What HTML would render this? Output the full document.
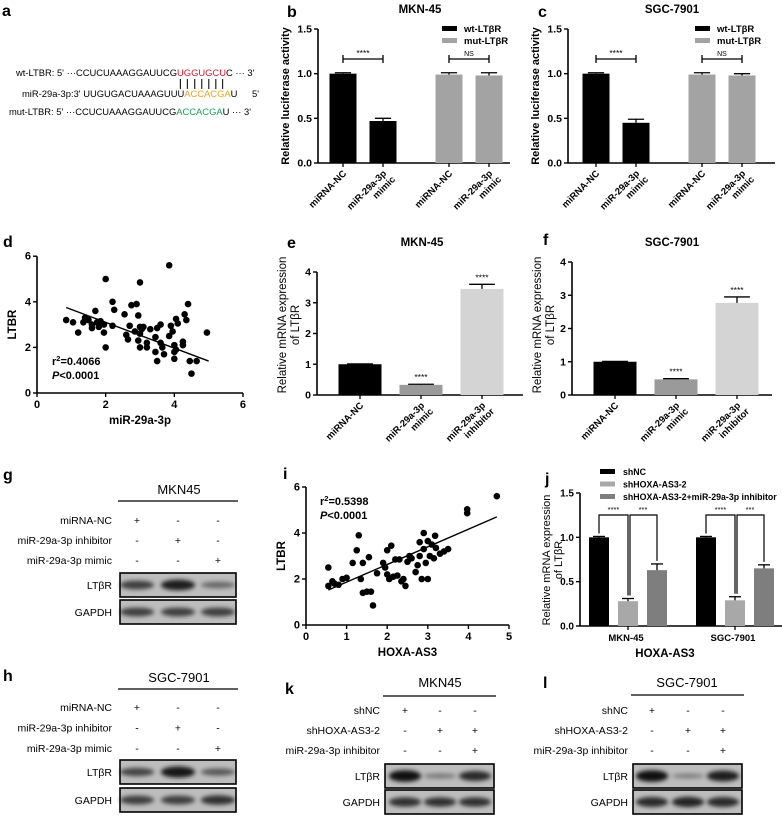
<!DOCTYPE html>
<html><head><meta charset="utf-8"><style>
html,body{margin:0;padding:0;background:#fff}
svg{display:block;font-family:"Liberation Sans",Arial,sans-serif}
</style></head><body>
<svg id="fig" width="782" height="816" viewBox="0 0 782 816">
<defs>
<filter id="blur" x="-20%" y="-100%" width="140%" height="300%"><feGaussianBlur stdDeviation="2"/></filter>
</defs>
<!-- panel a -->
<g font-size="9.4">
<text x="2" y="16" font-size="16" font-weight="bold">a</text>
<text x="16" y="76">wt-LTBR: 5' ···CCUCUAAAGGAUUCG<tspan id="wtc" fill="#c0223a">UGGUGCU</tspan>C ··· 3'</text>
<g id="pairs" stroke="#222" stroke-width="1.2"></g>
<text x="22" y="97">miR-29a-3p:3' UUGUGACUAAAGUUU<tspan fill="#e8a820">ACCACGA</tspan>U<tspan x="252">5'</tspan></text>
<text x="9" y="115">mut-LTBR: 5' ···CCUCUAAAGGAUUCG<tspan fill="#1f9e5a">ACCACGA</tspan>U ··· 3'</text>
</g>
<text x="287" y="17" font-size="16" font-weight="bold">b</text>
<text x="420" y="13" font-size="11.5" font-weight="bold" text-anchor="middle">MKN-45</text>
<text x="538" y="17" font-size="16" font-weight="bold">c</text>
<text x="672" y="13" font-size="11.5" font-weight="bold" text-anchor="middle">SGC-7901</text>
<text x="3" y="247" font-size="16" font-weight="bold">d</text>
<text x="287" y="248" font-size="16" font-weight="bold">e</text>
<text x="422" y="246" font-size="11.5" font-weight="bold" text-anchor="middle">MKN-45</text>
<text x="543" y="245" font-size="16" font-weight="bold">f</text>
<text x="672" y="246" font-size="11.5" font-weight="bold" text-anchor="middle">SGC-7901</text>
<text x="3" y="480" font-size="16" font-weight="bold">g</text>
<text x="3" y="681" font-size="16" font-weight="bold">h</text>
<text x="283" y="479" font-size="16" font-weight="bold">i</text>
<text x="545" y="484" font-size="16" font-weight="bold">j</text>
<text x="285" y="694" font-size="16" font-weight="bold">k</text>
<text x="543" y="688" font-size="16" font-weight="bold">l</text>
<g id="layer"></g>
</svg>
<script>
// ---- data ----
const bCats = ["miRNA-NC", "miR-29a-3p|mimic", "miRNA-NC", "miR-29a-3p|mimic"];
const bVals = [1.0, 0.47, 0.99, 0.98];
const bErr = [0.01, 0.03, 0.02, 0.03];
const cVals = [1.0, 0.45, 0.99, 0.98];
const cErr = [0.01, 0.04, 0.02, 0.02];
const lucTicks = [0, 0.5, 1.0, 1.5];
const lucTickLabels = ["0.0", "0.5", "1.0", "1.5"];
const eCats = ["miRNA-NC", "miR-29a-3p|mimic", "miR-29a-3p|inhibitor"];
const eVals = [1.0, 0.33, 3.45];
const eErr = [0.01, 0.02, 0.15];
const fVals = [1.0, 0.47, 2.77];
const fErr = [0.01, 0.02, 0.18];
const mrnaTicks = [0, 1, 2, 3, 4];
const jGroups = ["MKN-45", "SGC-7901"];
const jSeries = ["shNC", "shHOXA-AS3-2", "shHOXA-AS3-2+miR-29a-3p inhibitor"];
const jMKN = [1.0, 0.28, 0.63];
const jMKNErr = [0.01, 0.03, 0.07];
const jSGC = [1.0, 0.29, 0.65];
const jSGCErr = [0.01, 0.04, 0.04];
const dX = [0.85,1.05,1.2,1.35,1.4,1.5,1.6,1.6,1.7,1.75,1.8,1.85,1.95,1.95,2.0,2.0,2.2,2.2,2.25,2.55,2.6,2.65,2.7,2.75,2.85,2.9,2.95,2.95,3.0,3.0,3.0,3.0,3.05,3.1,3.2,3.2,3.3,3.45,3.45,3.5,3.5,3.6,3.6,3.65,3.7,3.85,3.85,3.9,3.95,4.0,4.0,4.0,4.05,4.05,4.1,4.25,4.25,4.3,4.35,4.4,4.45,4.5,4.65,4.95];
const dY = [3.2,3.1,2.65,3.1,3.3,3.2,3.0,2.85,3.6,3.1,2.9,3.15,3.0,2.65,2.0,5.0,4.0,2.95,3.65,3.45,2.55,2.35,2.95,3.85,2.7,3.9,3.4,2.3,4.85,2.9,2.6,2.0,2.8,2.9,2.2,2.0,2.8,1.8,2.45,1.4,2.85,3.0,2.2,2.0,1.7,5.6,2.5,2.95,2.7,2.1,1.8,1.5,3.25,1.9,3.05,2.1,2.25,3.45,3.2,3.9,1.4,0.85,1.4,2.65];
const dFit = [0.85, 5.0];
const dFitY = [3.75, 1.4];
const iX = [0.55,0.55,0.65,0.7,0.8,0.9,1.0,1.15,1.25,1.3,1.35,1.4,1.4,1.5,1.55,1.6,1.65,1.75,1.9,1.95,2.0,2.0,2.05,2.1,2.15,2.2,2.25,2.3,2.35,2.4,2.45,2.5,2.55,2.6,2.7,2.75,2.8,2.8,2.85,2.9,2.9,2.95,3.0,3.0,3.05,3.1,3.15,3.18,3.2,3.3,3.4,3.5,3.97,3.97,4.7];
const iY = [1.7,2.5,1.9,1.8,1.75,2.0,2.05,2.7,3.25,3.9,2.0,2.7,1.4,1.45,2.95,1.45,0.85,2.25,2.7,2.5,3.25,2.2,2.0,3.45,2.1,2.85,2.15,2.85,1.9,2.0,1.7,2.75,3.0,2.9,2.3,2.6,3.6,3.0,2.0,4.0,3.3,2.7,2.0,3.65,3.0,3.5,2.9,3.88,3.35,3.1,3.2,3.3,5.03,4.86,5.6];
const iFit = [0.55, 4.7];
const iFitY = [1.52, 4.7];
const scatTicksD = [0, 2, 4, 6];
const scatTicksI = [0, 1, 2, 3, 4, 5];
const scatYTicks = [0, 2, 4, 6];

const NS = "http://www.w3.org/2000/svg";
const layer = document.getElementById("layer");
function mk(tag, attrs, parent, txt) {
  const e = document.createElementNS(NS, tag);
  for (const k in attrs) e.setAttribute(k, attrs[k]);
  if (txt !== undefined) e.textContent = txt;
  (parent || layer).appendChild(e);
  return e;
}
function grp(name) {
  const g = mk("g", {});
  
  
  return g;
}
// pairing lines aligned to coloured letters
(function () {
  const t = document.getElementById("wtc").parentNode;
  const txt = t.textContent;
  const start = txt.indexOf("UGGUGCU");
  const pg = document.getElementById("pairs");
  for (let k = 0; k < 7; k++) {
    let x;
    try {
      const a = t.getStartPositionOfChar(start + k).x, b = t.getEndPositionOfChar(start + k).x;
      x = (a + b) / 2;
    } catch (e) { x = 189 + k * 6.5; }
    mk("line", {x1: x, y1: 79, x2: x, y2: 89}, pg);
  }
})();
function yAxis(g, x, yFn, ticks, labels, fs) {
  const top = yFn(ticks[ticks.length - 1]), bot = yFn(ticks[0]);
  const ax = mk("line", {x1: x, y1: top, x2: x, y2: bot, stroke: "#000", "stroke-width": 1.6}, g);
  
  
  ticks.forEach((t, i) => {
    mk("line", {x1: x - 4, y1: yFn(t), x2: x, y2: yFn(t), stroke: "#000", "stroke-width": 1.4}, g);
    const tl = mk("text", {x: x - 6, y: yFn(t) + 3.5, "text-anchor": "end", "font-size": fs || 10, "font-weight": "bold"}, g, labels ? labels[i] : String(t));
    
    
  });
}
function rotLabel(g, cx, y, label, fs) {
  const parts = label.split("|");
  const t = mk("text", {transform: `translate(${cx + 4},${y}) rotate(-45)`, "text-anchor": "end", "font-size": fs, "font-weight": "bold"}, g);
  
  
  parts.forEach((p, k) => {
    mk("tspan", {x: k === 0 ? 0 : 2, dy: k === 0 ? 0 : fs * 1.1}, t, p);
  });
}
function bar(g, x, w, y0, y, fill, err, yFn, v, name) {
  const r = mk("rect", {x: x, y: y, width: w, height: y0 - y, fill: fill}, g);
  
  
  const ey = yFn(v + err), cx = x + w / 2;
  mk("line", {x1: cx, y1: y, x2: cx, y2: ey, stroke: "#000", "stroke-width": 1.3}, g);
  mk("line", {x1: cx - w * 0.3, y1: ey, x2: cx + w * 0.3, y2: ey, stroke: "#000", "stroke-width": 1.3}, g);
}
function bracket(g, x1, x2, y, label, small) {
  mk("path", {d: `M${x1},${y - 4}V${y + 4}M${x1},${y}H${x2}M${x2},${y - 4}V${y + 4}`, stroke: "#000", "stroke-width": 1.3, fill: "none"}, g);
  mk("text", {x: (x1 + x2) / 2, y: y - 3, "text-anchor": "middle", "font-size": small ? 7 : 8.5}, g, label);
}

// ---- panels b & c ----
function lucPanel(name, axX, firstCx, endX, vals, errs, legX) {
  const g = grp(name);
  const y0 = 163, sc = (163 - 29) / 1.5;
  const yFn = v => y0 - v * sc;
  yAxis(g, axX, yFn, lucTicks, lucTickLabels, 10.5);
  const xs = i => firstCx + i * 40 + (i >= 2 ? 26 : 0);
  mk("line", {x1: axX, y1: y0, x2: endX, y2: y0, stroke: "#000", "stroke-width": 1.6}, g);
  vals.forEach((v, i) => {
    const cx = xs(i);
    bar(g, cx - 13.5, 27, y0, yFn(v), i < 2 ? "#000" : "#a3a3a3", errs[i], yFn, v, "bar-" + (i < 2 ? "wt" : "mut") + "-" + i);
    mk("line", {x1: cx, y1: y0, x2: cx, y2: y0 + 4, stroke: "#000", "stroke-width": 1.3}, g);
    rotLabel(g, cx, 174, bCats[i], 9.5);
  });
  bracket(g, xs(0), xs(1), 59, "****");
  bracket(g, xs(2), xs(3), 59, "NS", true);
  const yl = mk("text", {transform: `translate(${axX - 29},96) rotate(-90)`, "text-anchor": "middle", "font-size": 11, "font-weight": "bold"}, g, "Relative luciferase activity");
  
  
  const lg = mk("g", {}, g);
  
  
  mk("rect", {x: legX, y: 26, width: 15, height: 5, fill: "#000"}, lg);
  mk("text", {x: legX + 22, y: 32, "font-size": 9.5, "font-weight": "bold"}, lg, "wt-LTβR");
  mk("rect", {x: legX, y: 38, width: 15, height: 5, fill: "#a3a3a3"}, lg);
  mk("text", {x: legX + 22, y: 44, "font-size": 9.5, "font-weight": "bold"}, lg, "mut-LTβR");
}
lucPanel("chart-b", 318, 343, 510, bVals, bErr, 442);
lucPanel("chart-c", 568, 596, 775, cVals, cErr, 695);

// ---- panels e & f ----
function mrnaPanel(name, axX, topY, vals, errs, endX) {
  const g = grp(name);
  const y0 = 395, sc = (395 - topY) / 4;
  const yFn = v => y0 - v * sc;
  yAxis(g, axX, yFn, mrnaTicks, null, 10.5);
  mk("line", {x1: axX, y1: y0, x2: endX, y2: y0, stroke: "#000", "stroke-width": 1.6}, g);
  const cols = ["#000", "#9a9a9a", "#d4d4d4"];
  vals.forEach((v, i) => {
    const cx = axX + 43 + i * 61;
    bar(g, cx - 21.5, 43, y0, yFn(v), cols[i], errs[i], yFn, v, "bar-" + i);
    mk("line", {x1: cx, y1: y0, x2: cx, y2: y0 + 4, stroke: "#000", "stroke-width": 1.3}, g);
    rotLabel(g, cx, 406, eCats[i], 9.5);
    if (i > 0) mk("text", {x: cx, y: yFn(v + errs[i]) - 4, "text-anchor": "middle", "font-size": 8.5}, g, "****");
  });
  const yl = mk("text", {transform: `translate(${axX - 31},325) rotate(-90)`, "text-anchor": "middle", "font-size": 11.5}, g);
  
  
  mk("tspan", {x: 0, dy: 0}, yl, "Relative mRNA expression");
  mk("tspan", {x: 0, dy: 13}, yl, "of LTβR");
}
mrnaPanel("chart-e", 317, 272, eVals, eErr, 523);
mrnaPanel("chart-f", 572, 262, fVals, fErr, 772);

// ---- scatter panels ----
function scatter(name, axX, x0px, xUnit, xTicks, y0, yUnit, xs, ys, fx, fy, xTitle, r2, rx, ry) {
  const g = grp(name);
  const xFn = v => x0px + v * xUnit, yFn = v => y0 - v * yUnit;
  yAxis(g, axX, yFn, scatYTicks, null, 11);
  const xa = mk("line", {x1: axX, y1: y0, x2: xFn(xTicks[xTicks.length - 1]), y2: y0, stroke: "#000", "stroke-width": 1.6}, g);
  
  
  xTicks.forEach(t => {
    mk("line", {x1: xFn(t), y1: y0, x2: xFn(t), y2: y0 + 4, stroke: "#000", "stroke-width": 1.4}, g);
    mk("text", {x: xFn(t), y: y0 + 15, "text-anchor": "middle", "font-size": 11, "font-weight": "bold"}, g, String(t));
  });
  xs.forEach((v, i) => {
    const c = mk("circle", {cx: xFn(v), cy: yFn(ys[i]), r: 3.3, fill: "#000"}, g);
    
    
  });
  const fl = mk("line", {x1: xFn(fx[0]), y1: yFn(fy[0]), x2: xFn(fx[1]), y2: yFn(fy[1]), stroke: "#000", "stroke-width": 1.4}, g);
  
  
  const xt = mk("text", {x: (axX + xFn(xTicks[xTicks.length - 1])) / 2, y: y0 + 31, "text-anchor": "middle", "font-size": 11.5, "font-weight": "bold"}, g, xTitle);
  
  
  const yt = mk("text", {transform: `translate(${axX - 21},${yFn(3)}) rotate(-90)`, "text-anchor": "middle", "font-size": 11.5, "font-weight": "bold"}, g, "LTBR");
  
  
  const st = mk("text", {x: rx, y: ry, "font-size": 11, "font-weight": "bold"}, g);
  
  
  mk("tspan", {}, st, "r");
  mk("tspan", {dy: -4, "font-size": 7.5}, st, "2");
  mk("tspan", {dy: 4}, st, "=" + r2);
  const pt = mk("text", {x: rx, y: ry + 14, "font-size": 11, "font-weight": "bold"}, g);
  mk("tspan", {"font-style": "italic"}, pt, "P");
  mk("tspan", {}, pt, "<0.0001");
}
scatter("chart-d", 37, 37, 34.33, scatTicksD, 393, 22.8, dX, dY, dFit, dFitY, "miR-29a-3p", "0.4066", 52, 365);
scatter("chart-i", 306, 306, 40.6, scatTicksI, 625, 23, iX, iY, iFit, iFitY, "HOXA-AS3", "0.5398", 320, 505);

// ---- panel j ----
(function () {
  const g = grp("chart-j");
  const axX = 580, y0 = 626, sc = (626 - 493) / 1.5;
  const yFn = v => y0 - v * sc;
  yAxis(g, axX, yFn, lucTicks, lucTickLabels, 10);
  mk("line", {x1: axX, y1: y0, x2: 782, y2: y0, stroke: "#000", "stroke-width": 1.6}, g);
  const cols = ["#000", "#a8a8a8", "#7e7e7e"];
  [[jMKN, jMKNErr], [jSGC, jSGCErr]].forEach((gr, gi) => {
    const base = 599 + gi * 107;
    gr[0].forEach((v, i) => {
      const cx = base + i * 29;
      bar(g, cx - 10, 20, y0, yFn(v), cols[i], gr[1][i], yFn, v, "bar-" + jGroups[gi] + "-" + i);
    });
    mk("line", {x1: base + 29, y1: y0, x2: base + 29, y2: y0 + 4, stroke: "#000", "stroke-width": 1.3}, g);
    mk("text", {x: base + 27, y: 641, "text-anchor": "middle", "font-size": 9.5, "font-weight": "bold"}, g, jGroups[gi]);
    const by = 515;
    mk("path", {d: `M${base},${yFn(gr[0][0] + gr[1][0]) - 3}V${by}H${base + 29}V${yFn(gr[0][1] + gr[1][1]) - 3}`, stroke: "#000", "stroke-width": 1.2, fill: "none"}, g);
    mk("path", {d: `M${base + 31},${yFn(gr[0][1] + gr[1][1]) - 3}V${by}H${base + 58}V${yFn(gr[0][2] + gr[1][2]) - 3}`, stroke: "#000", "stroke-width": 1.2, fill: "none"}, g);
    mk("text", {x: base + 14.5, y: by - 3, "text-anchor": "middle", "font-size": 7.5}, g, "****");
    mk("text", {x: base + 44, y: by - 3, "text-anchor": "middle", "font-size": 7.5}, g, "***");
  });
  mk("text", {x: 665, y: 657, "text-anchor": "middle", "font-size": 11.5, "font-weight": "bold"}, g, "HOXA-AS3");
  const yl = mk("text", {transform: `translate(550,560) rotate(-90)`, "text-anchor": "middle", "font-size": 11}, g);
  
  
  mk("tspan", {x: 0, dy: 0}, yl, "Relative mRNA expression");
  mk("tspan", {x: 0, dy: 12}, yl, "of LTβR");
  const lg = mk("g", {}, g);
  
  
  jSeries.forEach((s, i) => {
    mk("rect", {x: 600, y: 469 + i * 12.5, width: 15, height: 5, fill: cols[i]}, lg);
    mk("text", {x: 623, y: 475 + i * 12.5, "font-size": 8.8, "font-weight": "bold"}, lg, s);
  });
})();

// ---- western blots ----
function blot(name, cfg) {
  const g = grp(name);
  mk("text", {x: cfg.cx, y: cfg.titleY, "text-anchor": "middle", "font-size": 13}, g, cfg.title);
  mk("line", {x1: cfg.x1, y1: cfg.lineY, x2: cfg.x2, y2: cfg.lineY, stroke: "#000", "stroke-width": 1.2}, g);
  cfg.rows.forEach((r, i) => {
    const y = cfg.rowY + i * cfg.rowStep;
    mk("text", {x: cfg.labX, y: y + 4, "text-anchor": "end", "font-size": 10.5}, g, r);
    cfg.signs[i].forEach((s, j) => {
      mk("text", {x: cfg.cols[j], y: y + 4, "text-anchor": "middle", "font-size": 10.5}, g, s);
    });
  });
  [["LTβR", cfg.b1, cfg.i1], ["GAPDH", cfg.b2, cfg.i2]].forEach(([lab, by, ints]) => {
    const h = 24;
    const box = mk("g", {}, g);
    
    
    mk("rect", {x: cfg.x1 + 2, y: by, width: cfg.x2 - cfg.x1 - 4, height: h, fill: "#bdbdbd"}, box);
    ints.forEach((v, j) => {
      mk("ellipse", {cx: cfg.cols[j], cy: by + h / 2, rx: (cfg.x2 - cfg.x1) / 7, ry: 2 + v * 4, fill: "#000", opacity: 0.25 + v * 0.7, filter: "url(#blur)"}, box);
    });
    mk("rect", {x: cfg.x1 + 2, y: by, width: cfg.x2 - cfg.x1 - 4, height: h, fill: "none", stroke: "#000", "stroke-width": 1.6}, box);
    mk("text", {x: cfg.labX, y: by + h / 2 + 4, "text-anchor": "end", "font-size": 10.5}, g, lab);
  });
}
const sign3a = [["+", "-", "-"], ["-", "+", "-"], ["-", "-", "+"]];
const sign3b = [["+", "-", "-"], ["-", "+", "+"], ["-", "-", "+"]];
const rowsGH = ["miRNA-NC", "miR-29a-3p inhibitor", "miR-29a-3p mimic"];
const rowsKL = ["shNC", "shHOXA-AS3-2", "miR-29a-3p inhibitor"];
blot("blot-g", {cx: 179, title: "MKN45", titleY: 494, lineY: 501, x1: 118, x2: 238, rows: rowsGH, signs: sign3a, rowY: 520, rowStep: 20, labX: 112, cols: [137, 178, 218], b1: 573, b2: 600, i1: [0.6, 0.85, 0.3], i2: [0.6, 0.6, 0.6]});
blot("blot-h", {cx: 179, title: "SGC-7901", titleY: 682, lineY: 689, x1: 118, x2: 238, rows: rowsGH, signs: sign3a, rowY: 707, rowStep: 20.5, labX: 112, cols: [137, 178, 218], b1: 760, b2: 788, i1: [0.55, 0.9, 0.4], i2: [0.6, 0.6, 0.7]});
blot("blot-k", {cx: 440, title: "MKN45", titleY: 687, lineY: 696, x1: 383, x2: 496, rows: rowsKL, signs: sign3b, rowY: 710, rowStep: 20, labX: 380, cols: [405, 440, 475], b1: 764, b2: 790, i1: [0.95, 0.15, 0.75], i2: [0.7, 0.7, 0.7]});
blot("blot-l", {cx: 687, title: "SGC-7901", titleY: 687, lineY: 695, x1: 631, x2: 744, rows: rowsKL, signs: sign3b, rowY: 710, rowStep: 20, labX: 628, cols: [652, 688, 723], b1: 764, b2: 790, i1: [0.95, 0.12, 0.85], i2: [0.75, 0.8, 0.75]});
</script>
</body></html>
